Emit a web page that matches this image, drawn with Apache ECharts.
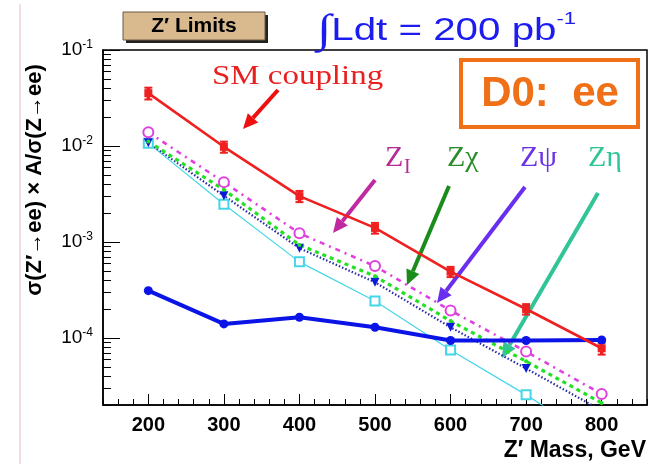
<!DOCTYPE html>
<html><head><meta charset="utf-8">
<script src="https://cdn.jsdelivr.net/npm/echarts@6/dist/echarts.min.js"></script>
<style>html,body{margin:0;padding:0;background:#fff}#c{width:650px;height:464px}</style>
</head><body><div id="c"></div>
<script>
// ---- data ----
const masses = [200, 300, 400, 500, 600, 700, 800];
const smCoupling = [0.0355, 0.0098, 0.0030, 0.00140, 0.00049, 0.00020, 0.000078];
const smErr      = [0.005, 0.0013, 0.0004, 0.00018, 0.00006, 0.000025, 0.000011];
const limit95    = [0.000311, 0.000140, 0.000164, 0.000129, 0.000094, 0.000094, 0.000095];
const zI   = [0.0139, 0.0042, 0.00123, 0.00056, 0.000193, 0.000072, 0.000026];
const zChi = [0.0111, 0.0035, 0.00093, 0.00044, 0.000150, 0.000057, 0.000021];
const zPsi = [0.0108, 0.00303, 0.00086, 0.00038, 0.000129, 0.000048, 0.0000175];
const zEta = [0.0107, 0.00247, 0.00062, 0.000243, 0.000075, 0.0000255, 0.0000080];
const yMajorTicks = [1e-4, 1e-3, 1e-2, 1e-1];
const xMajorTicks = [200, 300, 400, 500, 600, 700, 800];

const pair = arr => masses.map((m, i) => [m, arr[i]]);
const yMinor = [];
for (let e = -5; e <= -2; e++) for (let k = 2; k <= 9; k++) {
  const v = +(k * Math.pow(10, e)).toPrecision(3);
  if (v >= 2e-5 && v <= 0.1) yMinor.push(v);
}
const xMinor = [];
for (let v = 140; v <= 860; v += 20) xMinor.push(v);

const chart = echarts.init(document.getElementById('c'));

function arrow(x1, y1, x2, y2, color, w) {
  const dx = x2 - x1, dy = y2 - y1, L = Math.hypot(dx, dy);
  const ux = dx / L, uy = dy / L, hl = 15, hw = 7;
  const bx = x2 - ux * hl, by = y2 - uy * hl;
  return {
    type: 'group', silent: true, children: [
      { type: 'line', shape: { x1, y1, x2: bx, y2: by }, style: { stroke: color, lineWidth: w } },
      { type: 'polygon', shape: { points: [[x2, y2], [bx - uy * hw, by + ux * hw], [bx + uy * hw, by - ux * hw]] },
        style: { fill: color } }
    ]
  };
}

const sans = '"Liberation Sans", Arial, sans-serif';
const serif = '"Liberation Serif", "Times New Roman", serif';

const logAxisBase = {
  type: 'log', logBase: 10, min: 2e-5, max: 0.1,
  splitLine: { show: false }
};

const option = {
  animation: false,
  backgroundColor: '#fff',
  grid: { left: 103, right: 3, top: 50, bottom: 59, show: true, borderColor: '#000', borderWidth: 1.5 },
  xAxis: [
    { type: 'value', min: 140, max: 860,
      axisLine: { show: true, onZero: false, lineStyle: { color: '#000', width: 1.5 } },
      axisTick: { show: true, inside: true, length: 11, customValues: xMajorTicks, lineStyle: { color: '#000', width: 1 } },
      axisLabel: { customValues: xMajorTicks, color: '#000', fontSize: 20, fontWeight: 'bold', fontFamily: sans, margin: 10 },
      splitLine: { show: false }
    },
    { type: 'value', min: 140, max: 860, position: 'bottom',
      axisLine: { show: false },
      axisTick: { show: true, inside: true, length: 6, customValues: xMinor, lineStyle: { color: '#000', width: 1 } },
      axisLabel: { show: false }, splitLine: { show: false }
    }
  ],
  yAxis: [
    Object.assign({}, logAxisBase, {
      axisLine: { show: true, onZero: false, lineStyle: { color: '#000', width: 1.5 } },
      axisTick: { show: true, inside: true, length: 17, customValues: yMajorTicks, lineStyle: { color: '#000', width: 1 } },
      axisLabel: {
        customValues: yMajorTicks, margin: 10,
        formatter: v => '{b|10}{s|' + Math.round(Math.log10(v)) + '}',
        rich: {
          b: { fontSize: 19, color: '#000', fontFamily: sans, lineHeight: 22 },
          s: { fontSize: 12, color: '#000', fontFamily: sans, verticalAlign: 'top', lineHeight: 22, padding: [0, 0, 12, 0] }
        }
      }
    }),
    Object.assign({}, logAxisBase, {
      position: 'left',
      axisLine: { show: false },
      axisTick: { show: true, inside: true, length: 8, customValues: yMinor, lineStyle: { color: '#000', width: 1 } },
      axisLabel: { show: false }
    })
  ],
  series: [
    { name: 'Zeta', type: 'line', data: pair(zEta), symbol: 'emptyRect', symbolSize: 9,
      lineStyle: { color: '#44d6e8', width: 1.2 }, itemStyle: { color: '#44d6e8', borderWidth: 1 } },
    { name: 'Zpsi', type: 'line', data: pair(zPsi), symbol: 'triangle', symbolRotate: 180, symbolSize: 9,
      lineStyle: { color: '#2a2aa8', width: 2.2, type: [1.5, 2] }, itemStyle: { color: '#0a1ad8' } },
    { name: 'Zchi', type: 'line', data: pair(zChi), symbol: 'circle', symbolSize: 4,
      lineStyle: { color: '#22e022', width: 3.2, type: [4, 4] }, itemStyle: { color: '#22e022' } },
    { name: 'ZI', type: 'line', data: pair(zI), symbol: 'emptyCircle', symbolSize: 10,
      lineStyle: { color: '#e040e0', width: 2.6, type: [5, 5, 2, 5] }, itemStyle: { color: '#e040e0', borderWidth: 1 } },
    { name: 'limit', type: 'line', data: pair(limit95), symbol: 'circle', symbolSize: 9,
      lineStyle: { color: '#0a14e6', width: 4 }, itemStyle: { color: '#0a14e6' } },
    { name: 'SM', type: 'line', data: pair(smCoupling), symbol: 'rect', symbolSize: 8,
      lineStyle: { color: '#ee2020', width: 2.6 }, itemStyle: { color: '#ee2020' } },
    { name: 'SMerr', type: 'custom',
      data: masses.map((m, i) => [m, smCoupling[i] - smErr[i], smCoupling[i] + smErr[i]]),
      renderItem: (params, api) => {
        const lo = api.coord([api.value(0), api.value(1)]);
        const hi = api.coord([api.value(0), api.value(2)]);
        return { type: 'group', children: [
          { type: 'line', shape: { x1: lo[0], y1: lo[1], x2: hi[0], y2: hi[1] }, style: { stroke: '#ee2020', lineWidth: 3.5 } },
          { type: 'line', shape: { x1: lo[0] - 4, y1: lo[1], x2: lo[0] + 4, y2: lo[1] }, style: { stroke: '#ee2020', lineWidth: 2 } },
          { type: 'line', shape: { x1: hi[0] - 4, y1: hi[1], x2: hi[0] + 4, y2: hi[1] }, style: { stroke: '#ee2020', lineWidth: 2 } }
        ] };
      }
    }
  ],
  graphic: [
    { type: 'rect', shape: { x: 19, y: 4, width: 2, height: 460 }, style: { fill: '#f2dede' }, silent: true },
    // Z' Limits box with shadow
    { type: 'rect', shape: { x: 126, y: 15, width: 142, height: 28 }, style: { fill: '#222' }, silent: true },
    { type: 'rect', shape: { x: 123, y: 12, width: 142, height: 28 }, style: { fill: '#d9b98e', stroke: '#6b5a40', lineWidth: 1 }, silent: true },
    { type: 'text', x: 194, y: 26, style: { text: 'Z\u2032 Limits', font: 'bold 21px ' + sans, fill: '#000', align: 'center', verticalAlign: 'middle' }, silent: true },
    // luminosity
    { type: 'text', x: 317, y: 31, scaleX: 1.3, style: {
        text: '{i|\u222B}{m|Ldt = 200 pb}{s|-1}', align: 'left', verticalAlign: 'middle',
        rich: { i: { fontSize: 40, fontFamily: serif, fill: '#1c1cf0', lineHeight: 40 },
                m: { fontSize: 31, fontFamily: sans, fill: '#1c1cf0', lineHeight: 40 },
                s: { fontSize: 17, fontFamily: sans, fill: '#1c1cf0', verticalAlign: 'top', lineHeight: 40, padding: [0, 0, 16, 0] } } }, silent: true },
    // D0 box
    { type: 'rect', shape: { x: 461, y: 60, width: 177, height: 67 }, style: { fill: 'none', stroke: '#f07018', lineWidth: 4 }, silent: true },
    { type: 'text', x: 550, y: 94, style: { text: 'D0:  ee', font: 'bold 42px ' + sans, fill: '#f07018', align: 'center', verticalAlign: 'middle' }, silent: true },
    // SM coupling
    { type: 'text', x: 212, y: 77, scaleX: 1.22, style: { text: 'SM coupling', font: '27px ' + serif, fill: '#e82020', align: 'left', verticalAlign: 'middle' }, silent: true },
    arrow(278, 90, 243, 129, '#ee1010', 4),
    // model labels
    { type: 'text', x: 385, y: 158, style: { text: 'Z', font: '30px ' + serif, fill: '#b42c96', align: 'left', verticalAlign: 'middle' }, silent: true },
    { type: 'text', x: 404, y: 168, style: { text: 'I', font: '20px ' + serif, fill: '#b42c96', align: 'left', verticalAlign: 'middle' }, silent: true },
    { type: 'text', x: 447, y: 158, style: { text: 'Z\u03C7', font: '30px ' + serif, fill: '#2a8c2a', align: 'left', verticalAlign: 'middle' }, silent: true },
    { type: 'text', x: 520, y: 158, style: { text: 'Z\u03C8', font: '30px ' + serif, fill: '#6a34e6', align: 'left', verticalAlign: 'middle' }, silent: true },
    { type: 'text', x: 588, y: 158, style: { text: 'Z\u03B7', font: '30px ' + serif, fill: '#30c496', align: 'left', verticalAlign: 'middle' }, silent: true },
    arrow(375, 180, 333, 233, '#c02aa0', 4),
    arrow(449, 186, 407, 285, '#1a8c1a', 4),
    arrow(525, 187, 437, 303, '#6a2ef0', 4),
    arrow(598, 193, 502, 358, '#30c496', 4),
    // axis titles
    { type: 'text', x: 35, y: 180, rotation: Math.PI / 2, style: { text: '\u03C3(Z\u2032\u2192ee) \u00D7 A/\u03C3(Z\u2192ee)', font: 'bold 22px ' + sans, fill: '#000', align: 'center', verticalAlign: 'middle' }, silent: true },
    { type: 'text', x: 646, y: 451, style: { text: 'Z\u2032 Mass, GeV', font: 'bold 23px ' + sans, fill: '#000', align: 'right', verticalAlign: 'middle' }, silent: true }
  ]
};
chart.setOption(option);
</script>
</body></html>
